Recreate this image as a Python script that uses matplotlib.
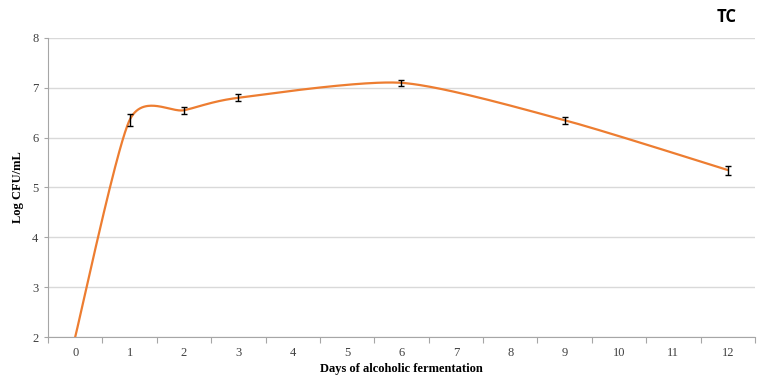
import numpy as np
import matplotlib
matplotlib.use("Agg")
import matplotlib.pyplot as plt

# Data
categories = list(range(0, 13))
days = [0, 1, 2, 3, 6, 9, 12]
log_cfu = [2.0, 6.35, 6.55, 6.80, 7.10, 6.35, 5.35]
errors = [0.0, 0.12, 0.07, 0.07, 0.06, 0.07, 0.09]
y_ticks = [2, 3, 4, 5, 6, 7, 8]


def smooth_curve(xs, ys, k=0.12, n=60):
    """Excel-like Bezier smoothing through the points."""
    P = np.column_stack([xs, ys]).astype(float)
    out = []
    for i in range(len(P) - 1):
        p0 = P[i - 1] if i > 0 else P[i]
        p1 = P[i]
        p2 = P[i + 1]
        p3 = P[i + 2] if i + 2 < len(P) else P[i + 1]
        c1 = p1 + (p2 - p0) * k
        c2 = p2 - (p3 - p1) * k
        t = np.linspace(0, 1, n)[:, None]
        seg = ((1 - t) ** 3) * p1 + 3 * ((1 - t) ** 2) * t * c1 + 3 * (1 - t) * t ** 2 * c2 + t ** 3 * p2
        out.append(seg if i == 0 else seg[1:])
    arr = np.vstack(out)
    return arr[:, 0], arr[:, 1]


fig = plt.figure(figsize=(7.63, 3.76), dpi=100)
ax = fig.add_axes([0.0629, 0.1037, 0.9266, 0.7953])

serif = ["Liberation Serif", "DejaVu Serif"]

sx, sy = smooth_curve(days, log_cfu)
ax.plot(sx, sy, color="#ED7D31", lw=1.6, zorder=3, solid_capstyle="round")
ax.errorbar(days[1:], log_cfu[1:], yerr=errors[1:], fmt="none", ecolor="black",
            elinewidth=1.0, capsize=2, capthick=1.0, zorder=4)

ax.set_xlim(-0.5, 12.5)
ax.set_ylim(2, 8)
ax.set_yticks(y_ticks)
ax.set_yticklabels([str(v) for v in y_ticks], fontfamily=serif, fontsize=9, color="#404040")
ax.set_xticks(categories)
ax.set_xticklabels([str(c) for c in categories], fontfamily=serif, fontsize=9, color="#404040")
ax.set_xticks(np.arange(-0.5, 13, 1), minor=True)
ax.tick_params(axis="x", which="major", length=0, pad=7)
ax.tick_params(axis="x", which="minor", length=4, color="#a6a6a6", width=0.8, direction="out")
ax.tick_params(axis="y", which="major", length=3, color="#a6a6a6", width=0.8, pad=4)

ax.grid(axis="y", color="#d9d9d9", lw=1.0, zorder=0)
for s in ["top", "right"]:
    ax.spines[s].set_visible(False)
ax.spines["left"].set_color("#a6a6a6")
ax.spines["bottom"].set_color("#a6a6a6")
ax.spines["left"].set_linewidth(0.8)
ax.spines["bottom"].set_linewidth(0.8)

ax.set_xlabel("Days of alcoholic fermentation", fontfamily=serif, fontweight="bold",
              fontsize=9, labelpad=3)
ax.set_ylabel("Log CFU/mL", fontfamily=serif, fontweight="bold", fontsize=9, labelpad=6)

fig.text(727 / 763, 1 - 17 / 376, "TC", fontfamily=["Open Sans", "DejaVu Sans"],
         fontweight="bold", fontsize=12, ha="center", va="center")

fig.savefig("out.png", dpi=100)
